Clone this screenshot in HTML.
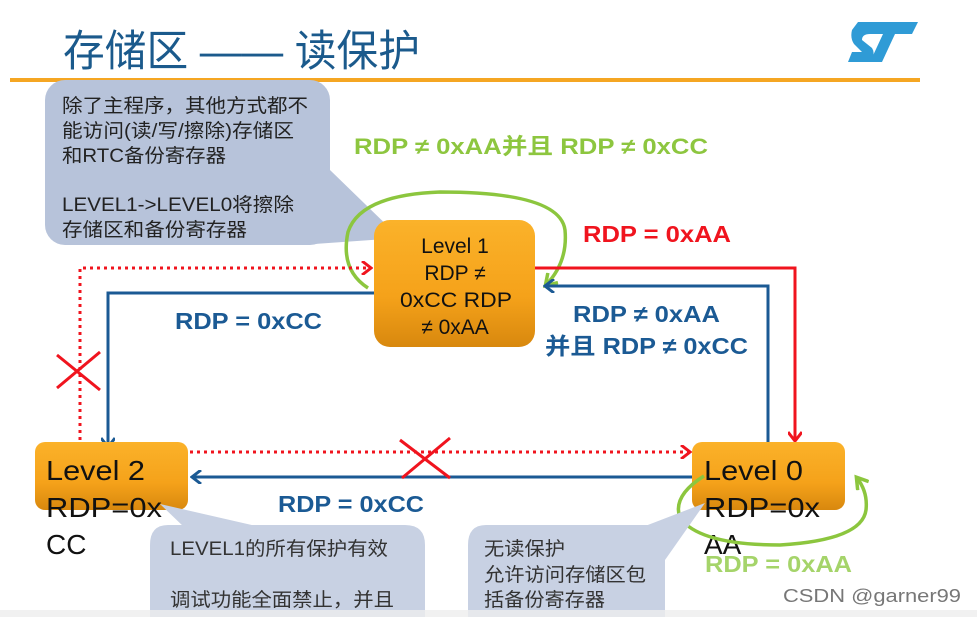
<!DOCTYPE html>
<html><head><meta charset="utf-8"><style>
body{margin:0;background:#fff;}
svg{display:block;}
text{font-family:"Liberation Sans","Noto Sans CJK SC",sans-serif;}
</style></head><body>
<svg width="977" height="617" viewBox="0 0 977 617" xmlns="http://www.w3.org/2000/svg">
<defs>
<linearGradient id="og" x1="0" y1="0" x2="0" y2="1">
<stop offset="0" stop-color="#fbb22a"/><stop offset="0.6" stop-color="#f5a21a"/><stop offset="1" stop-color="#d8880e"/>
</linearGradient>
<marker id="ab" markerWidth="12" markerHeight="14" refX="9" refY="7" orient="auto" markerUnits="userSpaceOnUse"><path d="M1,0 L10,7 L1,14" fill="none" stroke="#1b5a94" stroke-width="3"/></marker>
<marker id="ar" markerWidth="12" markerHeight="14" refX="9" refY="7" orient="auto" markerUnits="userSpaceOnUse"><path d="M1,0 L10,7 L1,14" fill="none" stroke="#f0141e" stroke-width="3"/></marker>
<marker id="ag" markerWidth="16" markerHeight="16" refX="11" refY="8" orient="auto" markerUnits="userSpaceOnUse"><path d="M1,1 L12,8 L1,15" fill="none" stroke="#8cc63e" stroke-width="3.5"/></marker>
</defs>
<text x="63" y="66" font-size="43" fill="#1b5a8c" textLength="357" lengthAdjust="spacingAndGlyphs">存储区 —— 读保护</text>
<rect x="10" y="78" width="910" height="4" fill="#f5a623"/>
<path d="M858,22 L918,22 L912,34 L895,34 L882,62 L870,62 L883,34 L870,34 Q862,34 862,40 L872,48 Q876,54 870,62 L848,62 L852,52 L862,52 L854,44 Q850,38 852,30 Z" fill="#2f9bd6"/>
<rect x="45" y="80" width="285" height="165" rx="20" fill="#b7c3da"/>
<path d="M300,175 L330,170 L400,238 L300,245 Z" fill="#b7c3da"/>
<g font-size="19" fill="#222">
<text x="62" y="112" textLength="246" lengthAdjust="spacingAndGlyphs">除了主程序，其他方式都不</text>
<text x="62" y="137" textLength="232" lengthAdjust="spacingAndGlyphs">能访问(读/写/擦除)存储区</text>
<text x="62" y="162" textLength="164" lengthAdjust="spacingAndGlyphs">和RTC备份寄存器</text>
<text x="62" y="211" textLength="232" lengthAdjust="spacingAndGlyphs">LEVEL1-&gt;LEVEL0将擦除</text>
<text x="62" y="236" textLength="185" lengthAdjust="spacingAndGlyphs">存储区和备份寄存器</text>
</g>
<text x="354" y="154" font-size="22" font-weight="bold" fill="#8dc63f" textLength="354" lengthAdjust="spacingAndGlyphs">RDP ≠ 0xAA并且 RDP ≠ 0xCC</text>
<path d="M368,288 Q340,270 348,232 Q360,195 440,192 Q560,192 565,230 Q568,262 546,285" fill="none" stroke="#8cc63e" stroke-width="3.5" marker-end="url(#ag)"/>
<path d="M535,268 L795,268 L795,440" fill="none" stroke="#f0141e" stroke-width="3" marker-end="url(#ar)"/>
<path d="M768,445 L768,286 L546,286" fill="none" stroke="#1b5a94" stroke-width="3" marker-end="url(#ab)"/>
<path d="M80,440 L80,268 L370,268" fill="none" stroke="#f0141e" stroke-width="3" stroke-dasharray="3,4" marker-end="url(#ar)"/>
<path d="M374,293 L108,293 L108,446" fill="none" stroke="#1b5a94" stroke-width="3" marker-end="url(#ab)"/>
<path d="M190,452 L689,452" fill="none" stroke="#f0141e" stroke-width="3" stroke-dasharray="3,4" marker-end="url(#ar)"/>
<path d="M692,477 L193,477" fill="none" stroke="#1b5a94" stroke-width="3" marker-end="url(#ab)"/>
<path d="M57,355 L100,390 M100,352 L57,388" stroke="#f0141e" stroke-width="3"/>
<path d="M400,440 L450,478 M450,438 L402,478" stroke="#f0141e" stroke-width="3"/>
<g font-size="23" font-weight="bold">
<text x="583" y="242" fill="#f0141e" textLength="148" lengthAdjust="spacingAndGlyphs">RDP = 0xAA</text>
<text x="573" y="322" fill="#1b5a94" textLength="147" lengthAdjust="spacingAndGlyphs">RDP ≠ 0xAA</text>
<text x="545" y="354" fill="#1b5a94" textLength="203" lengthAdjust="spacingAndGlyphs">并且 RDP ≠ 0xCC</text>
<text x="175" y="329" fill="#1b5a94" textLength="147" lengthAdjust="spacingAndGlyphs">RDP = 0xCC</text>
<text x="278" y="512" fill="#1b5a94" textLength="146" lengthAdjust="spacingAndGlyphs">RDP = 0xCC</text>
</g>
<rect x="374" y="220" width="161" height="127" rx="16" fill="url(#og)"/>
<g font-size="21" fill="#111" text-anchor="middle">
<text x="455" y="253">Level 1</text><text x="455" y="280">RDP ≠</text>
<text x="456" y="307" textLength="112" lengthAdjust="spacingAndGlyphs">0xCC RDP</text><text x="455" y="334">≠ 0xAA</text>
</g>
<rect x="35" y="442" width="153" height="68" rx="10" fill="url(#og)"/>
<rect x="692" y="442" width="153" height="68" rx="10" fill="url(#og)"/>
<g font-size="28" fill="#111">
<text x="46" y="480" textLength="99" lengthAdjust="spacingAndGlyphs">Level 2</text>
<text x="46" y="517" textLength="116" lengthAdjust="spacingAndGlyphs">RDP=0x</text>
<text x="46" y="554">CC</text>
<text x="704" y="480" textLength="99" lengthAdjust="spacingAndGlyphs">Level 0</text>
<text x="704" y="517" textLength="116" lengthAdjust="spacingAndGlyphs">RDP=0x</text>
<text x="704" y="554">AA</text>
</g>
<path d="M704,476 Q672,496 680,518 Q700,545 780,545 Q862,540 866,510 Q868,492 857,478" fill="none" stroke="#8cc63e" stroke-width="3.5" marker-end="url(#ag)"/>
<text x="705" y="572" font-size="23" font-weight="bold" fill="#a5d46a" textLength="147" lengthAdjust="spacingAndGlyphs">RDP = 0xAA</text>
<path d="M168,525 L405,525 Q425,525 425,545 L425,617 L150,617 L150,545 Q150,525 168,525 Z" fill="#c8d1e3"/>
<path d="M160,504 L185,528 L265,528 Z" fill="#c8d1e3"/>
<g font-size="19" fill="#333">
<text x="170" y="555" textLength="218" lengthAdjust="spacingAndGlyphs">LEVEL1的所有保护有效</text>
<text x="170" y="606" textLength="224" lengthAdjust="spacingAndGlyphs">调试功能全面禁止，并且</text>
</g>
<path d="M486,525 L647,525 Q665,525 665,545 L665,617 L468,617 L468,545 Q468,525 486,525 Z" fill="#c8d1e3"/>
<path d="M705,503 L640,528 L665,560 Z" fill="#c8d1e3"/>
<g font-size="19" fill="#333">
<text x="484" y="555" textLength="81" lengthAdjust="spacingAndGlyphs">无读保护</text>
<text x="484" y="581" textLength="162" lengthAdjust="spacingAndGlyphs">允许访问存储区包</text>
<text x="484" y="606" textLength="121" lengthAdjust="spacingAndGlyphs">括备份寄存器</text>
</g>
<rect x="0" y="610" width="977" height="7" fill="#eeeeee" opacity="0.8"/>
<text x="783" y="602" font-size="18" fill="#777" textLength="178" lengthAdjust="spacingAndGlyphs">CSDN @garner99</text>
</svg>
</body></html>
